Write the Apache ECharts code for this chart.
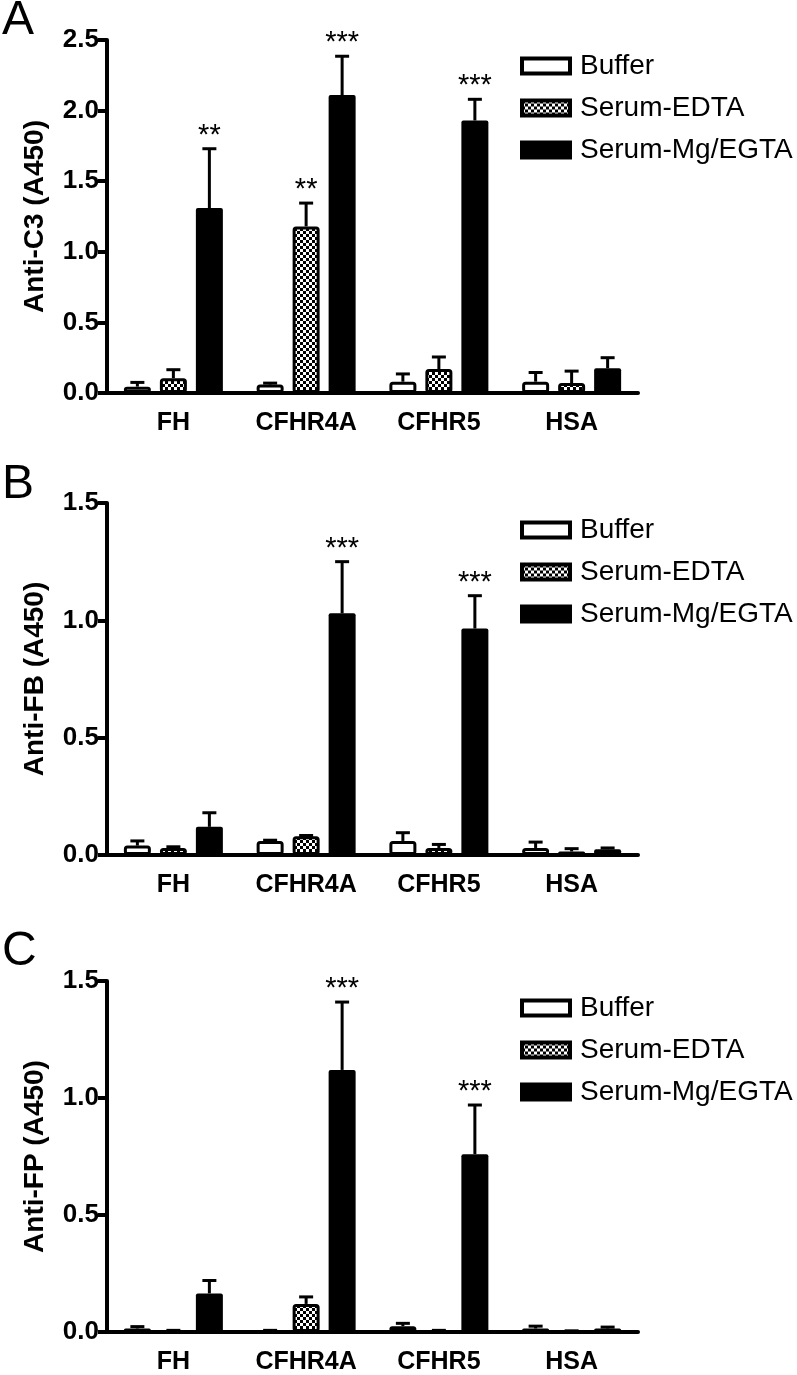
<!DOCTYPE html>
<html>
<head>
<meta charset="utf-8">
<script src="https://cdn.jsdelivr.net/npm/echarts@6/dist/echarts.min.js"></script>
<style>
  html, body { margin: 0; padding: 0; background: #fff; }
  #main { width: 797px; height: 1375px; }
</style>
</head>
<body>
<div id="main"></div>
<script>
var categories = ['FH', 'CFHR4A', 'CFHR5', 'HSA'];
var groups = ['Buffer', 'Serum-EDTA', 'Serum-Mg/EGTA'];

// A: anti-C3
var c3Buffer = [0.045, 0.06, 0.08, 0.08];
var c3BufferErr = [0.03, 0.01, 0.055, 0.065];
var c3Edta = [0.105, 1.18, 0.17, 0.07];
var c3EdtaErr = [0.06, 0.165, 0.085, 0.085];
var c3Mg = [1.31, 2.11, 1.93, 0.175];
var c3MgErr = [0.42, 0.275, 0.15, 0.075];
var c3Stars = [['', '', '**'], ['', '**', '***'], ['', '', '***'], ['', '', '']];

// B: anti-FB
var fbBuffer = [0.04, 0.06, 0.06, 0.03];
var fbBufferErr = [0.02, 0.003, 0.035, 0.025];
var fbEdta = [0.03, 0.08, 0.03, 0.015];
var fbEdtaErr = [0.005, 0.003, 0.015, 0.012];
var fbMg = [0.12, 1.03, 0.965, 0.025];
var fbMgErr = [0.06, 0.22, 0.14, 0.005];
var fbStars = [['', '', ''], ['', '', '***'], ['', '', '***'], ['', '', '']];

// C: anti-FP
var fpBuffer = [0.015, 0.005, 0.025, 0.015];
var fpBufferErr = [0.008, 0.002, 0.012, 0.01];
var fpEdta = [0.005, 0.12, 0.005, 0.003];
var fpEdtaErr = [0.002, 0.03, 0.002, 0.002];
var fpMg = [0.165, 1.12, 0.76, 0.015];
var fpMgErr = [0.055, 0.29, 0.21, 0.006];
var fpStars = [['', '', ''], ['', '', '***'], ['', '', '***'], ['', '', '']];

var yNames = ['Anti-C3 (A450)', 'Anti-FB (A450)', 'Anti-FP (A450)'];
var yMax = [2.5, 1.5, 1.5];
var panelLetters = ['A', 'B', 'C'];

var FONT = '"Liberation Sans", Arial, Helvetica, sans-serif';
var BAR_W = 27;
var BAR_STEP = 36;

// checkered fill for Serum-EDTA
var pat = document.createElement('canvas');
pat.width = 6; pat.height = 6;
var pctx = pat.getContext('2d');
pctx.fillStyle = '#fff'; pctx.fillRect(0, 0, 6, 6);
pctx.fillStyle = '#000'; pctx.fillRect(0, 0, 3, 3); pctx.fillRect(3, 3, 3, 3);

var panels = [
    { means: [c3Buffer, c3Edta, c3Mg], errs: [c3BufferErr, c3EdtaErr, c3MgErr], stars: c3Stars, top: 40, bottom: 393 },
    { means: [fbBuffer, fbEdta, fbMg], errs: [fbBufferErr, fbEdtaErr, fbMgErr], stars: fbStars, top: 503, bottom: 855 },
    { means: [fpBuffer, fpEdta, fpMg], errs: [fpBufferErr, fpEdtaErr, fpMgErr], stars: fpStars, top: 981, bottom: 1333 }
];
var legendTops = [47, 511, 989];
var letterY = [22, 486, 953];

var barStyles = [
    { color: '#fff', borderColor: '#000', borderWidth: 3, borderRadius: 2 },
    { color: { image: pat, repeat: 'repeat' }, borderColor: '#000', borderWidth: 3, borderRadius: 2 },
    { color: '#000', borderColor: '#000', borderWidth: 0, borderRadius: 2 }
];

function errRenderer(gi, stars) {
    return function (params, api) {
        var ci = api.value(0);
        var base = api.coord([ci, api.value(1)]);
        var hi = api.coord([ci, api.value(2)]);
        var x = base[0] + (gi - 1) * BAR_STEP;
        var children = [
            { type: 'line', shape: { x1: x, y1: base[1], x2: x, y2: hi[1] }, style: { stroke: '#000', lineWidth: 3 } },
            { type: 'line', shape: { x1: x - 7, y1: hi[1], x2: x + 7, y2: hi[1] }, style: { stroke: '#000', lineWidth: 3 } }
        ];
        var s = stars[ci][gi];
        if (s) {
            children.push({
                type: 'text',
                style: { text: s, x: x, y: hi[1] - 13, align: 'center', verticalAlign: 'middle',
                    fontSize: 29, fontFamily: FONT, fill: '#000' }
            });
        }
        return { type: 'group', children: children };
    };
}

var grids = [], xAxes = [], yAxes = [], series = [], legends = [], graphics = [];

panels.forEach(function (p, pi) {
    grids.push({ left: 107, right: 159, top: p.top, height: p.bottom - p.top });
    xAxes.push({
        type: 'category', gridIndex: pi, data: categories,
        axisLine: { lineStyle: { color: '#000', width: 4 } },
        axisTick: { show: false },
        axisLabel: { color: '#000', fontWeight: 'bold', fontSize: 25, fontFamily: FONT, margin: 18 }
    });
    yAxes.push({
        type: 'value', gridIndex: pi, min: 0, max: yMax[pi], interval: 0.5,
        name: yNames[pi], nameLocation: 'middle', nameGap: 58,
        nameTextStyle: { color: '#000', fontWeight: 'bold', fontSize: 28, fontFamily: FONT },
        axisLine: { show: true, lineStyle: { color: '#000', width: 4 } },
        axisTick: { show: true, length: 9, lineStyle: { color: '#000', width: 4 } },
        axisLabel: { color: '#000', fontWeight: 'bold', fontSize: 26, fontFamily: FONT, margin: 8,
            formatter: function (v) { return v.toFixed(1); } },
        splitLine: { show: false }
    });
    groups.forEach(function (g, gi) {
        series.push({
            name: g, type: 'bar', xAxisIndex: pi, yAxisIndex: pi,
            barWidth: BAR_W, barGap: ((BAR_STEP - BAR_W) / BAR_W * 100) + '%',
            data: p.means[gi], itemStyle: barStyles[gi], z: 2
        });
    });
    groups.forEach(function (g, gi) {
        series.push({
            type: 'custom', xAxisIndex: pi, yAxisIndex: pi, z: 3, silent: true,
            renderItem: errRenderer(gi, p.stars),
            data: p.means[gi].map(function (m, ci) { return [ci, m, m + p.errs[gi][ci]]; })
        });
    });
    legends.push({
        data: groups, orient: 'vertical', left: 515, top: legendTops[pi],
        itemWidth: 48, itemHeight: 15, itemGap: 14, icon: 'rect', selectedMode: false,
        itemStyle: { borderColor: '#000', borderWidth: 4 },
        textStyle: { color: '#000', fontSize: 28, fontFamily: FONT, padding: [0, 0, 0, 5] }
    });
    graphics.push({
        type: 'text', left: 2, top: letterY[pi] - 25,
        style: { text: panelLetters[pi], fontSize: 48, fontFamily: FONT, fill: '#000' }
    });
});

var myChart = echarts.init(document.getElementById('main'));
myChart.setOption({
    backgroundColor: '#fff',
    animation: false,
    grid: grids,
    xAxis: xAxes,
    yAxis: yAxes,
    legend: legends,
    graphic: graphics,
    series: series
});
</script>
</body>
</html>
